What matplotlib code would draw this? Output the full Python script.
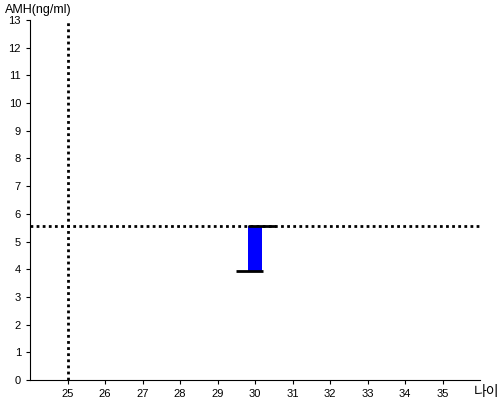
import matplotlib
matplotlib.use("Agg")
import matplotlib.pyplot as plt

plt.rcParams['font.family'] = ['Liberation Sans', 'Noto Sans CJK KR', 'DejaVu Sans']

ages = [30]
amh_low = [3.93]
amh_high = [5.56]
ref_age = 25
ref_amh = 5.56
x_ticks = list(range(25, 36))
y_ticks = list(range(0, 14))

fig = plt.figure(figsize=(5, 4), dpi=100)
ax = fig.add_axes([0.06, 0.05, 0.90, 0.90])

for a, lo, hi in zip(ages, amh_low, amh_high):
    ax.bar(a, hi - lo, bottom=lo, width=0.4, color='#0000ff', zorder=3)
    ax.hlines(hi, a - 0.2, a + 0.55, color='black', lw=2, zorder=4)
    ax.hlines(lo, a - 0.52, a + 0.2, color='black', lw=2, zorder=4)

ax.axhline(ref_amh, color='black', ls=(0, (1, 1.2)), lw=2, zorder=2)
ax.axvline(ref_age, color='black', ls=(0, (1, 1.2)), lw=2, zorder=2)

ax.set_xlim(24, 36)
ax.set_ylim(0, 13)
ax.set_xticks(x_ticks)
ax.set_yticks(y_ticks)
ax.tick_params(labelsize=8, length=3, colors='black')
for s in ['top', 'right']:
    ax.spines[s].set_visible(False)

fig.text(0.01, 0.975, 'AMH(ng/ml)', fontsize=9, va='center', ha='left')
fig.text(0.948, 0.02, '나이', fontsize=10, va='center', ha='left',
         family=['Noto Sans CJK KR', 'DejaVu Sans'])

fig.savefig('out.png')
